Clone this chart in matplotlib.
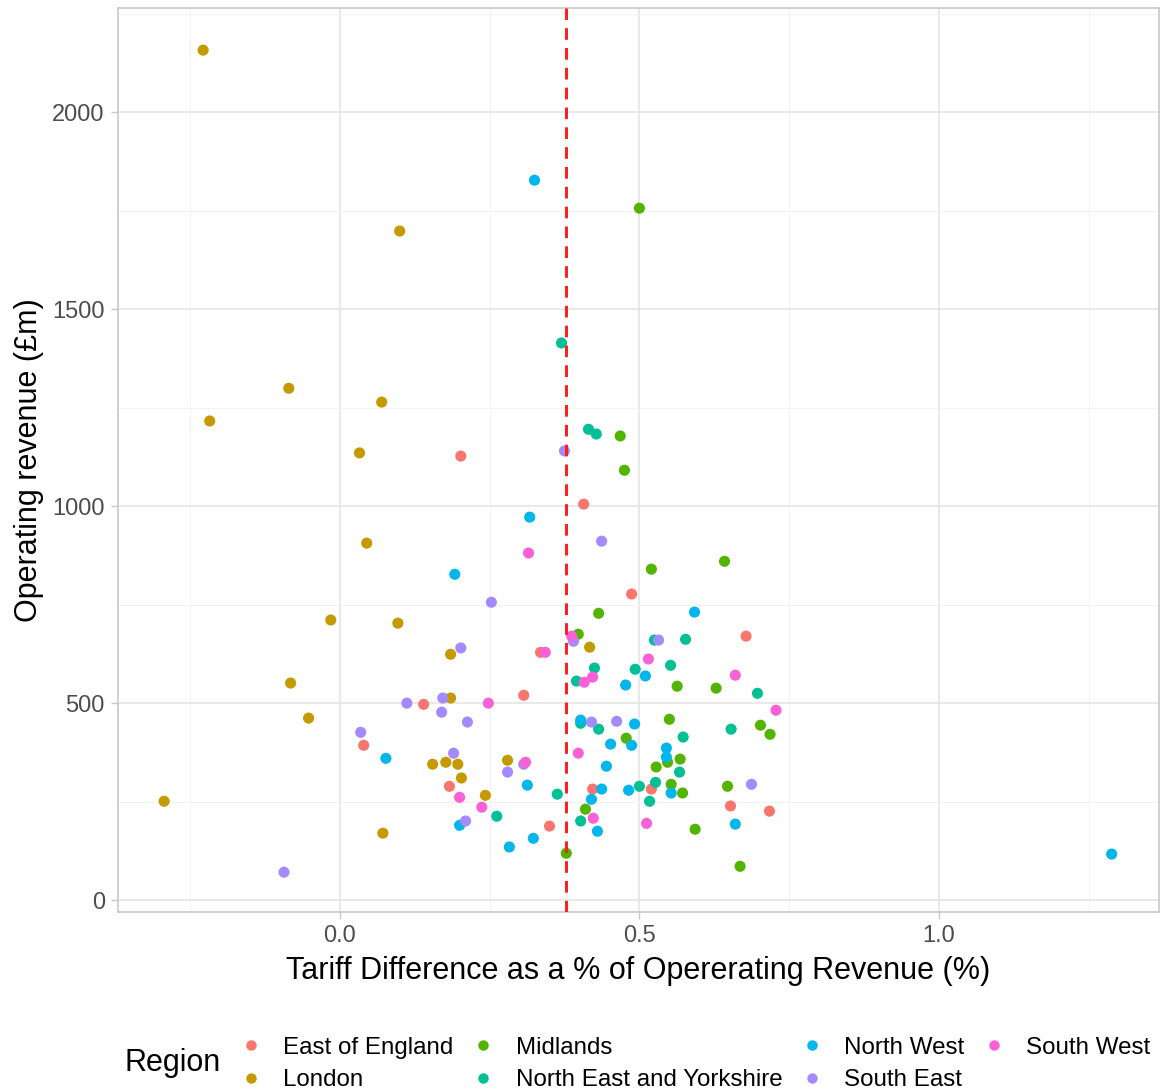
import matplotlib
matplotlib.use("Agg")
import matplotlib.pyplot as plt
from matplotlib.lines import Line2D
from matplotlib.ticker import MultipleLocator

plt.rcParams['font.family'] = ['Liberation Sans', 'DejaVu Sans']

# values (x: tariff diff %, y: operating revenue £m)
east_x = [0.202, 0.407, 0.487, 0.678, 0.040, 0.140, 0.307, 0.183, 0.350, 0.422, 0.335, 0.520, 0.652, 0.717]
east_y = [1127, 1005, 777, 670, 393, 497, 520, 289, 188, 282, 629, 282, 239, 226]

london_x = [-0.228, 0.100, -0.085, -0.217, 0.070, 0.033, 0.045, -0.015, 0.097, -0.082, -0.052,
            -0.293, 0.185, 0.185, 0.155, 0.177, 0.197, 0.203, 0.072, 0.280, 0.243, 0.417]
london_y = [2157, 1698, 1299, 1216, 1264, 1135, 906, 711, 703, 551, 462,
            251, 624, 513, 345, 350, 345, 310, 170, 355, 266, 642]

midlands_x = [0.500, 0.468, 0.475, 0.520, 0.642, 0.432, 0.398, 0.563, 0.628, 0.550, 0.702, 0.718,
              0.478, 0.547, 0.568, 0.528, 0.553, 0.572, 0.647, 0.410, 0.593, 0.378, 0.668]
midlands_y = [1756, 1178, 1091, 840, 860, 728, 675, 543, 538, 459, 444, 421,
              411, 350, 358, 338, 294, 272, 289, 231, 180, 119, 86]

ney_x = [0.370, 0.415, 0.428, 0.577, 0.525, 0.425, 0.395, 0.493, 0.552, 0.697, 0.402,
         0.432, 0.653, 0.573, 0.567, 0.527, 0.500, 0.363, 0.517, 0.402, 0.262]
ney_y = [1414, 1195, 1183, 662, 660, 589, 556, 586, 596, 525, 449,
         434, 434, 414, 325, 299, 289, 269, 251, 201, 213]

nw_x = [0.325, 0.317, 0.192, 0.592, 0.510, 0.477, 0.402, 0.492, 0.452, 0.487, 0.545, 0.545, 0.445,
        0.437, 0.482, 0.553, 0.420, 0.430, 0.660, 0.077, 0.313, 0.200, 0.323, 0.283, 1.288]
nw_y = [1827, 972, 827, 731, 569, 546, 457, 447, 396, 393, 386, 363, 340,
        282, 279, 272, 256, 175, 193, 360, 292, 190, 157, 135, 117]

se_x = [0.375, 0.437, 0.253, 0.202, 0.390, 0.532, 0.420, 0.462, 0.687, 0.112,
        0.172, 0.170, 0.213, 0.035, 0.190, 0.307, 0.280, 0.210, -0.093]
se_y = [1140, 911, 756, 640, 657, 660, 452, 454, 294, 500,
        513, 477, 452, 426, 373, 345, 325, 201, 71]

sw_x = [0.315, 0.343, 0.387, 0.515, 0.408, 0.422, 0.660, 0.728, 0.398, 0.248,
        0.310, 0.200, 0.237, 0.423, 0.512]
sw_y = [881, 629, 670, 612, 553, 566, 571, 482, 373, 500,
        350, 261, 236, 208, 195]

regions = ['East of England', 'London', 'Midlands', 'North East and Yorkshire',
           'North West', 'South East', 'South West']
colors = ['#F8766D', '#C49A00', '#53B400', '#00C094', '#00B6EB', '#A58AFF', '#FB61D7']
series = [(east_x, east_y), (london_x, london_y), (midlands_x, midlands_y),
          (ney_x, ney_y), (nw_x, nw_y), (se_x, se_y), (sw_x, sw_y)]

mean_line = 0.377

fig = plt.figure(figsize=(11.6, 10.9), dpi=100)
ax = fig.add_axes([118 / 1160, 1 - 912 / 1090, (1159 - 118) / 1160, (912 - 8) / 1090])

for (xs, ys), c in zip(series, colors):
    ax.scatter(xs, ys, s=64, color=c, edgecolors='none', zorder=3)

ax.axvline(mean_line, color='#FF1A1A', linestyle=(0, (4, 2.8)), linewidth=2.1, zorder=4)

ax.set_xlim(-0.37, 1.367)
ax.set_ylim(-30, 2264)
ax.xaxis.set_major_locator(MultipleLocator(0.5))
ax.xaxis.set_minor_locator(MultipleLocator(0.25))
ax.yaxis.set_major_locator(MultipleLocator(500))
ax.yaxis.set_minor_locator(MultipleLocator(250))
ax.set_xticks([0.0, 0.5, 1.0])
ax.set_xticklabels(['0.0', '0.5', '1.0'])

ax.grid(which='major', color='#E3E3E3', linewidth=1.1, zorder=0)
ax.grid(which='minor', color='#F3F3F3', linewidth=0.8, zorder=0)
ax.set_axisbelow(True)
for sp in ax.spines.values():
    sp.set_color('#C8C8C8')
    sp.set_linewidth(1.2)
ax.tick_params(which='major', length=5, width=1, color='#C8C8C8', labelsize=17,
               labelcolor='#4D4D4D', pad=4.5)
ax.tick_params(which='minor', length=0)

ax.set_xlabel('Tariff Difference as a % of Opererating Revenue (%)', fontsize=22, labelpad=6)
ax.set_ylabel('Operating revenue (£m)', fontsize=22, labelpad=6)

handles = [Line2D([], [], marker='o', linestyle='none', markersize=7.5,
                  markerfacecolor=c, markeredgecolor='none') for c in colors]
fig.legend(handles, regions, ncol=4, loc='center left', bbox_to_anchor=(239 / 1160, 1 - 1064 / 1090),
           frameon=False, fontsize=17.4, handlelength=1.0, handletextpad=0.84,
           columnspacing=0.72, labelspacing=0.42, borderaxespad=0, borderpad=0)
fig.text(125 / 1160, 1 - 1063 / 1090, 'Region', fontsize=22, va='center', ha='left')

fig.savefig('out.png', dpi=100)
